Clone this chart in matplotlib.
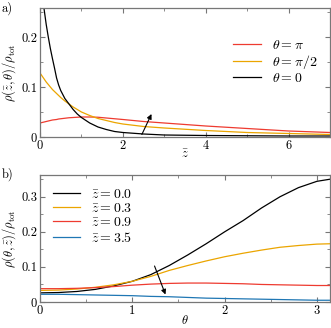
import numpy as np
import matplotlib
matplotlib.use("Agg")
import matplotlib.pyplot as plt
from matplotlib.ticker import MultipleLocator

plt.rcParams['font.family'] = ['cmr10', 'DejaVu Serif']
plt.rcParams['mathtext.fontset'] = 'cm'
plt.rcParams['axes.unicode_minus'] = False
plt.rcParams['font.size'] = 9

# Panel a: rho vs z-bar for fixed theta
z_a = [0.0, 0.05, 0.1, 0.15, 0.2, 0.25, 0.3, 0.35, 0.4, 0.45, 0.5, 0.6, 0.7, 0.8, 0.9,
       1.0, 1.2, 1.4, 1.6, 1.8, 2.0, 2.5, 3.0, 4.0, 5.0, 6.0, 7.0]
rho_theta0 = [0.33, 0.29, 0.255, 0.225, 0.200, 0.177, 0.157, 0.138, 0.118, 0.104, 0.093, 0.077, 0.066,
              0.055, 0.046, 0.039, 0.028, 0.020, 0.015, 0.011, 0.009, 0.006, 0.004, 0.003, 0.0025, 0.002, 0.002]
rho_thetapi2 = [0.128, 0.122, 0.116, 0.110, 0.105, 0.100, 0.095, 0.091, 0.087, 0.083, 0.079, 0.072, 0.066,
                0.060, 0.055, 0.050, 0.043, 0.037, 0.033, 0.029, 0.026, 0.021, 0.018, 0.013, 0.009, 0.007, 0.005]
rho_thetapi = [0.028, 0.029, 0.030, 0.031, 0.032, 0.033, 0.034, 0.0345, 0.035, 0.036, 0.0365, 0.0375, 0.0385,
               0.039, 0.0395, 0.040, 0.040, 0.0395, 0.038, 0.0365, 0.035, 0.031, 0.028, 0.022, 0.017, 0.012, 0.009]

# Panel b: rho vs theta for fixed z-bar
theta_b = [0.0, 0.2, 0.4, 0.6, 0.8, 1.0, 1.2, 1.4, 1.6, 1.8, 2.0, 2.2, 2.4, 2.6, 2.8, 3.0, np.pi]
rho_z00 = [0.026, 0.027, 0.030, 0.036, 0.046, 0.059, 0.078, 0.104, 0.134, 0.166, 0.200, 0.232, 0.268,
           0.300, 0.326, 0.344, 0.350]
rho_z03 = [0.033, 0.034, 0.037, 0.042, 0.049, 0.059, 0.073, 0.090, 0.104, 0.117, 0.129, 0.139, 0.148,
           0.156, 0.161, 0.165, 0.166]
rho_z09 = [0.038, 0.038, 0.039, 0.041, 0.044, 0.048, 0.051, 0.053, 0.054, 0.054, 0.053, 0.052, 0.050,
           0.049, 0.048, 0.047, 0.047]
rho_z35 = [0.022, 0.022, 0.021, 0.020, 0.019, 0.018, 0.016, 0.015, 0.013, 0.011, 0.010, 0.009, 0.008,
           0.007, 0.006, 0.005, 0.005]

RED = '#ee3b30'
ORANGE = '#eba500'
BLUE = '#1f77b4'
GRAY = '#777777'

fig = plt.figure(figsize=(3.31, 3.28), dpi=100)
ax1 = fig.add_axes([40/331, 1-137/328, 290/331, 129/328])
ax2 = fig.add_axes([40/331, 1-302/328, 290/331, 127/328])

lw = 0.9
ax1.plot(z_a, rho_thetapi, color=RED, lw=lw, label=r'$\theta=\pi$')
ax1.plot(z_a, rho_thetapi2, color=ORANGE, lw=lw, label=r'$\theta=\pi/2$')
ax1.plot(z_a, rho_theta0, color='black', lw=lw, label=r'$\theta=0$')
ax1.set_xlim(0, 7)
ax1.set_ylim(0, 0.258)
ax1.annotate('', xy=(2.72, 0.051), xytext=(2.43, 0.0),
             arrowprops=dict(arrowstyle='-|>', color='black', lw=0.8, mutation_scale=7))
ax1.set_xlabel(r'$\bar{z}$', labelpad=-3)
ax1.set_ylabel(r'$\rho(\bar{z},\theta)/\rho_{\rm tot}$', labelpad=2)
ax1.xaxis.set_major_locator(MultipleLocator(2))
ax1.xaxis.set_minor_locator(MultipleLocator(1))
ax1.yaxis.set_major_locator(MultipleLocator(0.1))
ax1.yaxis.set_minor_locator(MultipleLocator(0.05))
ax1.legend(loc='upper right', bbox_to_anchor=(1.0, 0.86), frameon=False, handlelength=2.0, fontsize=10,
           labelspacing=0.1)

ax2.plot(theta_b, rho_z00, color='black', lw=lw, label=r'$\bar{z}=0.0$')
ax2.plot(theta_b, rho_z03, color=ORANGE, lw=lw, label=r'$\bar{z}=0.3$')
ax2.plot(theta_b, rho_z09, color=RED, lw=lw, label=r'$\bar{z}=0.9$')
ax2.plot(theta_b, rho_z35, color=BLUE, lw=lw, label=r'$\bar{z}=3.5$')
ax2.set_xlim(0, np.pi)
ax2.set_ylim(0, 0.362)
ax2.annotate('', xy=(1.37, 0.014), xytext=(1.23, 0.11),
             arrowprops=dict(arrowstyle='-|>', color='black', lw=0.8, mutation_scale=7))
ax2.set_xlabel(r'$\theta$', labelpad=-2)
ax2.set_ylabel(r'$\rho(\theta,\bar{z})/\rho_{\rm tot}$', labelpad=2)
ax2.xaxis.set_major_locator(MultipleLocator(1))
ax2.xaxis.set_minor_locator(MultipleLocator(0.5))
ax2.yaxis.set_major_locator(MultipleLocator(0.1))
ax2.yaxis.set_minor_locator(MultipleLocator(0.05))
ax2.legend(loc='upper left', frameon=False, handlelength=2.0, fontsize=10, labelspacing=0.1,
           borderaxespad=0.5)

def ytickfmt(v, pos):
    return '0' if abs(v) < 1e-9 else ('%.1f' % v)

for ax in (ax1, ax2):
    ax.yaxis.set_major_formatter(matplotlib.ticker.FuncFormatter(ytickfmt))
    ax.tick_params(which='both', direction='in', top=True, right=True, color=GRAY, labelsize=9, pad=2)
    ax.tick_params(which='major', length=3.5, width=0.8)
    ax.tick_params(which='minor', length=2, width=0.6)
    for s in ax.spines.values():
        s.set_color(GRAY)
        s.set_linewidth(0.9)

fig.text(2/331, 1-12/328, 'a)', fontsize=9)
fig.text(2/331, 1-178/328, 'b)', fontsize=9)

fig.savefig('out.png', dpi=100)
